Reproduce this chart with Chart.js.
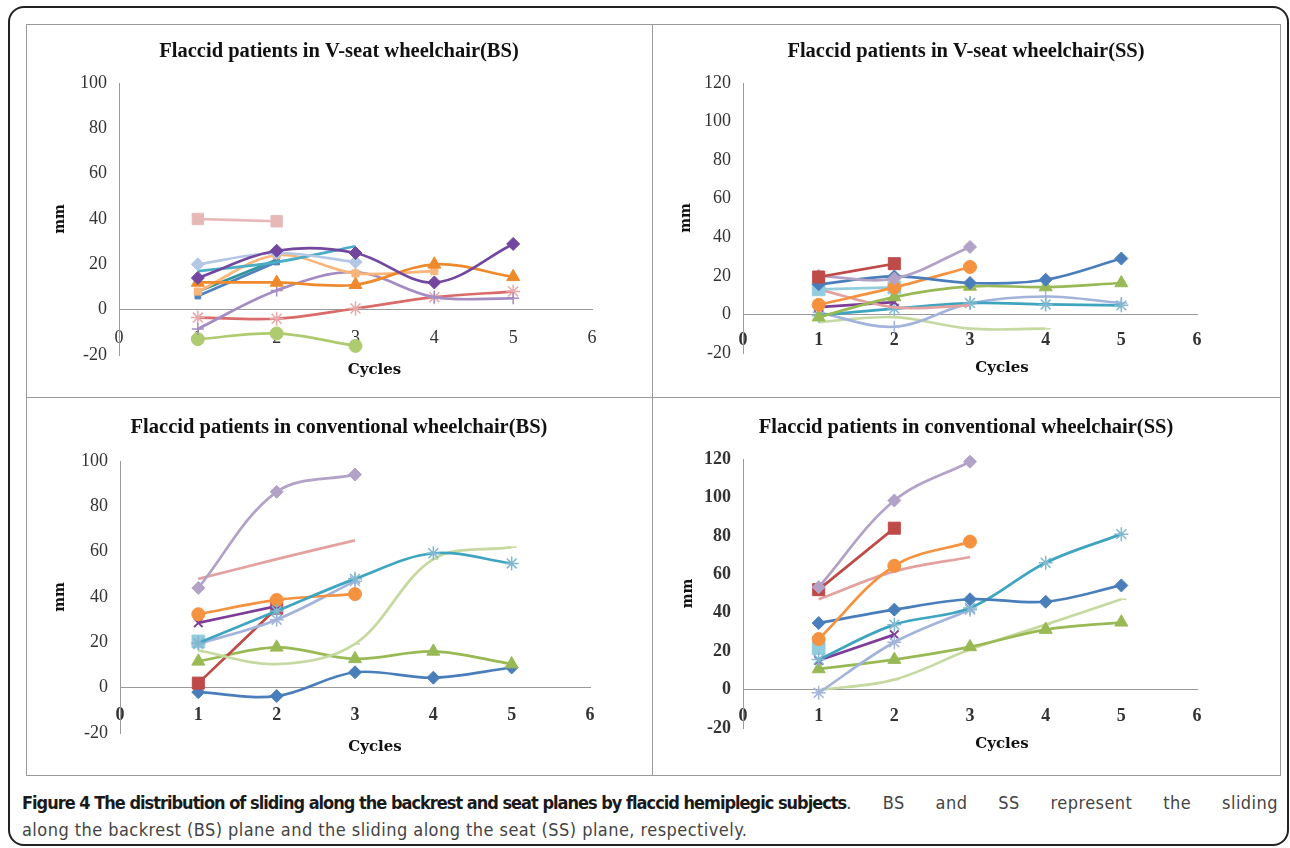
<!DOCTYPE html>
<html>
<head>
<meta charset="utf-8">
<script src="https://cdn.jsdelivr.net/npm/chart.js@4.4.0/dist/chart.umd.min.js"></script>
<style>
  body { margin: 0; background: #fff; width: 1290px; height: 848px; overflow: hidden; position: relative; }
  .frame { position: absolute; left: 8px; top: 6px; width: 1281px; height: 840px; border: 2px solid #222; border-radius: 16px; box-sizing: border-box; }
  .grid { position: absolute; left: 26px; top: 24px; width: 1255px; height: 752px; border: 1px solid #9b9b9b; box-sizing: border-box; }
  .vline { position: absolute; left: 652px; top: 24px; width: 1px; height: 752px; background: #9b9b9b; }
  .hline { position: absolute; left: 26px; top: 397px; width: 1255px; height: 1px; background: #9b9b9b; }
  .panel { position: absolute; }
  .caption { position: absolute; left: 22px; width: 1256px; font-family: "DejaVu Sans Condensed", "DejaVu Sans", sans-serif; font-stretch: condensed; font-size: 18px; line-height: 27px; color: #444; white-space: nowrap; }
  .caption.first { top: 789px; display: flex; }
  .caption.first b { flex: none; color: #1a1a1a; letter-spacing: -1px; }
  .caption.first span { flex: 1; letter-spacing: 0.45px; text-align: justify; text-align-last: justify; white-space: normal; }
  .caption.second { top: 816px; letter-spacing: 0.45px; }
</style>
</head>
<body>
<div class="frame"></div>
<div class="grid"></div>
<div class="vline"></div>
<div class="hline"></div>
<div class="panel" style="left:26px;top:24px;width:626px;height:373px"><canvas id="vBS"></canvas></div>
<div class="panel" style="left:652px;top:24px;width:628px;height:373px"><canvas id="vSS"></canvas></div>
<div class="panel" style="left:26px;top:397px;width:626px;height:378px"><canvas id="cBS"></canvas></div>
<div class="panel" style="left:652px;top:397px;width:628px;height:378px"><canvas id="cSS"></canvas></div>
<div class="caption first"><b>Figure 4 The distribution of sliding along the backrest and seat planes by flaccid hemiplegic subjects</b><span>. BS and SS represent the sliding</span></div>
<div class="caption second">along the backrest (BS) plane and the sliding along the seat (SS) plane, respectively.</div>
<script>
const cycles = [1, 2, 3, 4, 5];
const xTicks = [0, 1, 2, 3, 4, 5, 6];
const yTicksBS = [-20, 0, 20, 40, 60, 80, 100];
const yTicksSS = [-20, 0, 20, 40, 60, 80, 100, 120];

// V-seat wheelchair, sliding along backrest (BS)
const vBsPinkSquare = [40, 39];
const vBsPurpleDiamond = [14, 26, 25, 12, 29];
const vBsLightBlueDiamond = [20, 25, 21];
const vBsCyan = [17, 21, 28];
const vBsOrangeTriangle = [12, 12, 11, 20, 14.5];
const vBsLightOrange = [8, 24, 16, 17];
const vBsBlue = [6, 21];
const vBsTeal = [8, 22];
const vBsLightPurple = [-8.5, 8.5, 16.5, 5.5, 5];
const vBsRedStar = [-3.5, -4, 0.5, 5.5, 8];
const vBsGreenCircle = [-13, -10.5, -16];

// V-seat wheelchair, sliding along seat (SS)
const vSsRedSquare = [19.4, 26.3];
const vSsLightPurpleDiamond = [20, 18.6, 35];
const vSsBlueDiamond = [15.6, 19.7, 16.3, 18, 29];
const vSsOrangeCircle = [5, 14, 24.6];
const vSsGreenTriangle = [-1.4, 9, 14.5, 14.2, 16.3];
const vSsLightCyanSquare = [13, 14];
const vSsPink = [13, 3.7, 4.7];
const vSsPurpleX = [3.8, 6.4];
const vSsTealStar = [-0.5, 3, 5.9, 5.2, 4.7];
const vSsPeriwinkle = [1, -6.4, 5.7, 9.3, 5.9];
const vSsLightGreen = [-4, -1.4, -7.4, -7.4];

// conventional wheelchair, BS
const cBsLightPurpleDiamond = [44, 86.4, 94];
const cBsPink = [48, 56.7, 65];
const cBsTealStar = [19.7, 33.8, 48, 59.3, 54.8];
const cBsLightGreen = [16.4, 10.4, 19.3, 56.7, 62];
const cBsOrangeCircle = [32.4, 38.7, 41.3];
const cBsPurpleX = [28.6, 36];
const cBsPeriwinkleStar = [19.3, 30, 47];
const cBsLightCyanSquare = [20.4];
const cBsRedSquare = [2, 35];
const cBsGreenTriangle = [11.6, 17.8, 12.7, 16, 10.4];
const cBsBlueDiamond = [-2, -3.7, 6.8, 4.4, 8.9];

// conventional wheelchair, SS
const cSsLightPurpleDiamond = [53.3, 98.4, 118.6];
const cSsRedSquare = [52, 84];
const cSsOrangeCircle = [26.3, 64.4, 77];
const cSsPink = [47, 61.5, 69];
const cSsBlueDiamond = [34.6, 41.6, 47, 45.7, 54.2];
const cSsTealStar = [15.6, 33.8, 42.4, 66, 80.9];
const cSsPeriwinkleStar = [-1.7, 24.6, 41.6];
const cSsPurpleX = [15.2, 28.6];
const cSsLightCyanSquare = [21.6];
const cSsGreenTriangle = [10.7, 15.6, 22.2, 31.2, 35];
const cSsLightGreen = [-0.3, 5.2, 20.8, 33.8, 47];

// line / marker looks (Excel 2007 defaults and their tints)
const styles = {
  blueDiamond: { color: '#4A7EBB', point: 'rectRot', r: 6.5 },
  redSquare: { color: '#BE4B48', point: 'rect', r: 8.5 },
  greenTriangle: { color: '#98B954', point: 'triangle', r: 7.5 },
  purpleX: { color: '#7D3C98', point: 'crossRot', r: 6, pbw: 2 },
  tealStar: { color: '#3FA4C0', point: 'star', r: 7, pbw: 1.5, marker: '#7FB8D0' },
  orangeCircle: { color: '#F59240', point: 'circle', r: 6.5 },
  pink: { color: '#E3A2A0' },
  periwinkle: { color: '#A3B3DC', point: 'cross', r: 6, pbw: 1.5 },
  periwinkleStar: { color: '#A3B3DC', point: 'star', r: 7, pbw: 1.5 },
  lightGreen: { color: '#C6D9A0', point: 'dash', r: 5, pbw: 1.5 },
  lightPurpleDiamond: { color: '#B3A2C7', point: 'rectRot', r: 6.5 },
  lightCyanSquare: { color: '#93CDDD', point: 'rect', r: 9 },
  pinkSquare: { color: '#E6B9B8', point: 'rect', r: 8 },
  purpleDiamond: { color: '#7346A0', point: 'rectRot', r: 6.5 },
  lightBlueDiamond: { color: '#B4C8E6', point: 'rectRot', r: 6.5 },
  cyan: { color: '#4BACC6' },
  orangeTriangle: { color: '#EE8A2C', point: 'triangle', r: 7.5 },
  lightOrange: { color: '#F9B57A', point: 'rect', r: 5 },
  blue: { color: '#4F81BD', point: 'rect', r: 4 },
  teal: { color: '#31959C', point: 'rect', r: 4 },
  lightPurpleCross: { color: '#A48CC3', point: 'cross', r: 6, pbw: 1.5 },
  redStar: { color: '#D96B6B', point: 'star', r: 7, pbw: 1.5, marker: '#E6A8A8' },
  greenCircle: { color: '#AFCB6F', point: 'circle', r: 6.5 },
};

function series(name, values) {
  const s = styles[name];
  return {
    data: values.map((v, i) => ({ x: cycles[i], y: v })),
    borderColor: s.color,
    backgroundColor: s.color,
    borderWidth: 2.7,
    tension: 0.35,
    clip: false,
    pointStyle: s.point || 'circle',
    pointRadius: s.point ? s.r : 0,
    pointBorderColor: s.marker || s.color,
    pointBackgroundColor: s.marker || s.color,
    pointBorderWidth: s.pbw || 1,
  };
}

const serif = '"Liberation Serif", "DejaVu Serif", serif';

// "Cycles" sits a little right of the plot centre in the original, so it is drawn here
const cyclesLabel = {
  id: 'cyclesLabel',
  afterDraw(chart, args, opts) {
    const { ctx, chartArea, scales } = chart;
    ctx.save();
    ctx.font = 'bold 15px "DejaVu Serif", serif';
    ctx.fillStyle = '#111';
    ctx.textAlign = 'center';
    ctx.textBaseline = 'middle';
    ctx.fillText('Cycles', (chartArea.left + chartArea.right) / 2 + opts.dx, scales.y.getPixelForValue(0) + opts.dy);
    ctx.restore();
  },
};

function makeChart(id, cfg) {
  new Chart(document.getElementById(id), {
    type: 'line',
    data: { datasets: cfg.series.map(([name, vals]) => series(name, vals)) },
    plugins: [cyclesLabel],
    options: {
      animation: false,
      responsive: true,
      maintainAspectRatio: false,
      layout: { padding: { left: 0, right: 0, top: 0, bottom: cfg.padBottom } },
      plugins: {
        legend: { display: false },
        tooltip: { enabled: false },
        title: {
          display: true,
          text: cfg.title,
          color: '#111',
          font: { family: serif, size: 20.5, weight: 'bold' },
          padding: { top: cfg.titleTop, bottom: cfg.titleBottom },
        },
        cyclesLabel: { dx: cfg.cyclesDx, dy: cfg.cyclesDy },
      },
      scales: {
        x: {
          type: 'linear',
          min: xTicks[0],
          max: xTicks[xTicks.length - 1],
          position: { y: 0 },
          grid: { display: false, drawTicks: false },
          border: { display: true, color: '#9a9a9a', width: 1 },
          ticks: {
            stepSize: 1,
            padding: cfg.xTickPad,
            color: '#333',
            font: { family: serif, size: 18, weight: cfg.xBold ? 'bold' : 'normal' },
          },
        },
        y: {
          min: cfg.yTicks[0],
          max: cfg.yTicks[cfg.yTicks.length - 1],
          afterFit: (scale) => { scale.width = cfg.left; },
          grid: { display: false, drawTicks: false },
          border: { display: true, color: '#9a9a9a', width: 1 },
          ticks: {
            stepSize: 20,
            padding: 12,
            color: '#333',
            font: { family: serif, size: 18, weight: cfg.yBold ? 'bold' : 'normal' },
          },
          title: {
            display: true,
            text: 'mm',
            color: '#111',
            font: { family: '"DejaVu Serif", serif', size: 14, weight: 'bold' },
            padding: { top: cfg.mmX - 8.4, bottom: 0 },
          },
        },
        // empty right-hand axis: reserves the blank margin so the title stays centred on the panel
        yRight: {
          position: 'right',
          display: true,
          afterFit: (scale) => { scale.width = cfg.padRight; },
          grid: { display: false, drawTicks: false },
          border: { display: false },
          ticks: { display: false },
        },
      },
    },
  });
}

makeChart('vBS', {
  title: 'Flaccid patients in V-seat wheelchair(BS)',
  yTicks: yTicksBS,
  left: 93, padRight: 60, padBottom: 42, titleTop: 15.7, titleBottom: 18.7,
  xTickPad: 18.2, cyclesDx: 19, cyclesDy: 60, mmX: 34,
  series: [
    ['pinkSquare', vBsPinkSquare],
    ['purpleDiamond', vBsPurpleDiamond],
    ['lightBlueDiamond', vBsLightBlueDiamond],
    ['cyan', vBsCyan],
    ['orangeTriangle', vBsOrangeTriangle],
    ['lightOrange', vBsLightOrange],
    ['blue', vBsBlue],
    ['teal', vBsTeal],
    ['lightPurpleCross', vBsLightPurple],
    ['redStar', vBsRedStar],
    ['greenCircle', vBsGreenCircle],
  ],
});

makeChart('vSS', {
  title: 'Flaccid patients in V-seat wheelchair(SS)',
  yTicks: yTicksSS,
  left: 91, padRight: 83, padBottom: 44, titleTop: 15.7, titleBottom: 18.7,
  xTickPad: 15.2, cyclesDx: 32, cyclesDy: 54, mmX: 34, xBold: true,
  series: [
    ['redSquare', vSsRedSquare],
    ['lightPurpleDiamond', vSsLightPurpleDiamond],
    ['blueDiamond', vSsBlueDiamond],
    ['orangeCircle', vSsOrangeCircle],
    ['greenTriangle', vSsGreenTriangle],
    ['lightCyanSquare', vSsLightCyanSquare],
    ['pink', vSsPink],
    ['purpleX', vSsPurpleX],
    ['tealStar', vSsTealStar],
    ['periwinkle', vSsPeriwinkle],
    ['lightGreen', vSsLightGreen],
  ],
});

makeChart('cBS', {
  title: 'Flaccid patients in conventional wheelchair(BS)',
  yTicks: yTicksBS,
  left: 94, padRight: 62, padBottom: 42, titleTop: 18.7, titleBottom: 20.7,
  xTickPad: 17.2, cyclesDx: 20, cyclesDy: 59, mmX: 34, xBold: true,
  series: [
    ['lightPurpleDiamond', cBsLightPurpleDiamond],
    ['pink', cBsPink],
    ['tealStar', cBsTealStar],
    ['lightGreen', cBsLightGreen],
    ['orangeCircle', cBsOrangeCircle],
    ['purpleX', cBsPurpleX],
    ['periwinkleStar', cBsPeriwinkleStar],
    ['lightCyanSquare', cBsLightCyanSquare],
    ['redSquare', cBsRedSquare],
    ['greenTriangle', cBsGreenTriangle],
    ['blueDiamond', cBsBlueDiamond],
  ],
});

makeChart('cSS', {
  title: 'Flaccid patients in conventional wheelchair(SS)',
  yTicks: yTicksSS,
  left: 91, padRight: 83, padBottom: 47, titleTop: 18.7, titleBottom: 18.7,
  xTickPad: 16.2, cyclesDx: 32, cyclesDy: 55, mmX: 36, xBold: true, yBold: true,
  series: [
    ['lightPurpleDiamond', cSsLightPurpleDiamond],
    ['redSquare', cSsRedSquare],
    ['orangeCircle', cSsOrangeCircle],
    ['pink', cSsPink],
    ['blueDiamond', cSsBlueDiamond],
    ['tealStar', cSsTealStar],
    ['periwinkleStar', cSsPeriwinkleStar],
    ['purpleX', cSsPurpleX],
    ['lightCyanSquare', cSsLightCyanSquare],
    ['greenTriangle', cSsGreenTriangle],
    ['lightGreen', cSsLightGreen],
  ],
});
</script>
</body>
</html>
